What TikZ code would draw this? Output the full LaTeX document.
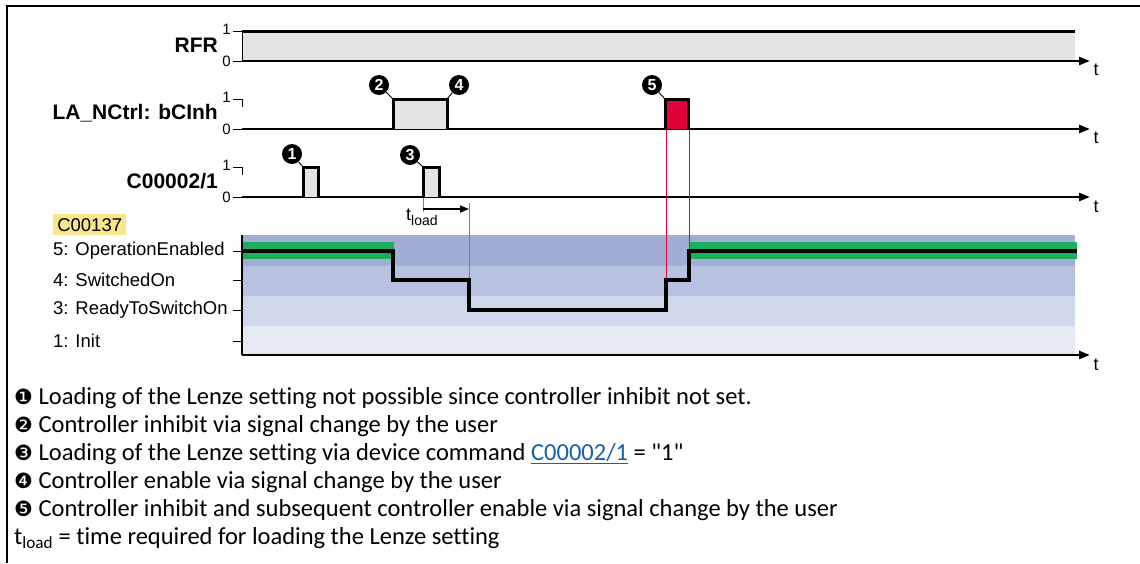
\documentclass[tikz,border=0pt]{standalone}
\usepackage{fontspec}
\setmainfont{Liberation Sans}
\newfontfamily\legfont[Ligatures={NoCommon,NoContextual}]{Carlito}
\newfontfamily\dingfont{DejaVu Sans}
\usetikzlibrary{arrows.meta}
\definecolor{sig}{HTML}{E4E4E4}
\definecolor{pulsered}{HTML}{E2003A}
\definecolor{opgreen}{HTML}{1EAD5F}
\definecolor{bandA}{HTML}{A0AED5}
\definecolor{bandB}{HTML}{B6C2DF}
\definecolor{bandC}{HTML}{CFD8EA}
\definecolor{bandD}{HTML}{E6EAF4}
\definecolor{hiyellow}{HTML}{F8E58C}
\definecolor{linkblue}{HTML}{1A5EA8}
\newcommand{\legding}[1]{{\dingfont\fontsize{21}{21}\selectfont #1}}
\begin{document}
\begin{tikzpicture}[x=1pt,y=-1pt,
  axis/.style={line width=2.4pt,-{Triangle[length=11pt,width=8pt]}},
  sigline/.style={line width=3pt},
  tickline/.style={line width=1pt},
  thinline/.style={line width=0.9pt},
  siglabel/.style={font=\fontsize{21}{24}\selectfont\bfseries,anchor=east,inner sep=0pt},
  lvl/.style={font=\fontsize{15}{17}\selectfont,anchor=east,inner sep=0pt},
  tlbl/.style={font=\fontsize{18}{20}\selectfont,inner sep=0pt},
  statelbl/.style={font=\fontsize{18.5}{21}\selectfont,anchor=west,inner sep=0pt},
  marker/.style={circle,fill=black,inner sep=0pt,minimum size=20pt,text=white,font=\fontsize{16}{16}\selectfont\bfseries},
  legline/.style={font=\legfont\fontsize{24.5}{28}\selectfont,anchor=west,inner sep=0pt}
]
\useasboundingbox (0,0) rectangle (1140,563);
% frame
\draw[line width=2pt] (7,563) -- (7,6) -- (1140,6);

% ---------- Row 1: RFR ----------
\fill[sig] (242,31) rectangle (1075,61);
\draw[thinline] (242,61) -- (242,31);
\draw[sigline] (242,31) -- (1075,31);
\draw[tickline] (233,31) -- (242,31);
\draw[tickline] (233,61) -- (242,61);
\node[lvl] (r1one) at (231,29) {1};
\node[lvl] (r1zero) at (231,61) {0};
\draw[axis] (242,61) -- (1090,61);
\node[tlbl] (t1) at (1096,70) {t};
\node[siglabel] (rfr) at (218,45) {RFR};

% ---------- Row 2: LA_NCtrl: bCInh ----------
\draw[tickline] (233,99) -- (242,99) -- (242,107);
\draw[tickline] (233,129) -- (242,129);
\node[lvl] (r2one) at (231,97) {1};
\node[lvl] (r2zero) at (231,129) {0};
\draw[axis] (242,129) -- (1090,129);
\filldraw[fill=sig,sigline] (393,129) -- (393,99) -- (447,99) -- (447,129);
\filldraw[fill=pulsered,sigline] (665,129) -- (665,99) -- (688,99) -- (688,129);
\node[tlbl] (t2) at (1096,138) {t};
\node[siglabel] (bcinh) at (218,113) {LA\_NCtrl: bCInh};

% ---------- Row 3: C00002/1 ----------
\draw[tickline] (233,167) -- (242,167) -- (242,175);
\draw[tickline] (233,197) -- (242,197);
\node[lvl] (r3one) at (231,165) {1};
\node[lvl] (r3zero) at (231,197) {0};
\draw[axis] (242,197) -- (1090,197);
\filldraw[fill=sig,sigline] (303,197) -- (303,167) -- (318,167) -- (318,197);
\filldraw[fill=sig,sigline] (423,197) -- (423,167) -- (439,167) -- (439,197);
\node[tlbl] (t3) at (1096,207) {t};
\node[siglabel] (cmd) at (218,181) {C00002/1};

% ---------- markers ----------
\coordinate (c1) at (303,167);
\coordinate (c2) at (393,99);
\coordinate (c3) at (423,167);
\coordinate (c4) at (447,99);
\coordinate (c5) at (665,99);
\node[marker] (m1) at (292,154) {1};
\node[marker] (m2) at (379,85) {2};
\node[marker] (m3) at (410,155) {3};
\node[marker] (m4) at (459,85) {4};
\node[marker] (m5) at (652,85) {5};
\draw[thinline] (m1) -- (c1);
\draw[thinline] (m2) -- (c2);
\draw[thinline] (m3) -- (c3);
\draw[thinline] (m4) -- (c4);
\draw[thinline] (m5) -- (c5);

% ---------- state plot ----------
\fill[bandA] (242,235) rectangle (1075,266);
\fill[bandB] (242,266) rectangle (1075,296);
\fill[bandC] (242,296) rectangle (1075,326);
\fill[bandD] (242,326) rectangle (1075,355);
\fill[opgreen] (242,242) rectangle (394,259);
\fill[opgreen] (689,242) rectangle (1077,259);

% t_load
\coordinate (tl0) at (423,198);
\coordinate (tl1) at (423,212);
\coordinate (tla) at (423,209);
\coordinate (tlb) at (469,209);
\coordinate (tlc) at (469,203);
\coordinate (tld) at (469,280);
\draw[gray,line width=0.8pt] (tl0) -- (tl1);
\draw[gray,line width=0.8pt] (tlc) -- (tld);
\draw[line width=1.6pt,-{Triangle[length=9pt,width=7pt]}] (tla) -- (tlb);
\node[tlbl,anchor=north west] (tload) at (406,209) {t\textsubscript{\fontsize{14}{14}\selectfont load}};

% red guide lines
\draw[pulsered,line width=0.9pt] (666,129) -- (666,280);
\draw[pulsered,line width=0.9pt] (689,129) -- (689,251);

% state line
\draw[line width=3.2pt] (242,251) -- (393,251) -- (393,280) -- (469,280) -- (469,310) -- (666,310) -- (666,280) -- (689,280) -- (689,251) -- (1077,251);

% axes
\draw[line width=1.6pt] (242,235) -- (242,355);
\draw[axis] (242,355) -- (1090,355);
\foreach \yy in {251,280,310,341} \draw[tickline] (233,\yy) -- (242,\yy);
\node[tlbl] (t4) at (1096,365) {t};

\node[statelbl,fill=hiyellow,minimum width=73pt,minimum height=21pt,inner sep=2pt,anchor=north west,align=center] (c137) at (53,214) {C00137};
\node[statelbl] (s5) at (53,251) {5: OperationEnabled};
\node[statelbl] (s4) at (53,280) {4: SwitchedOn};
\node[statelbl] (s3) at (53,310) {3: ReadyToSwitchOn};
\node[statelbl] (s1) at (53,341) {1: Init};

% ---------- legend ----------
\node[legline] (l1) at (14,398) {\legding{❶} Loading of the Lenze setting not possible since controller inhibit not set.};
\node[legline] (l2) at (14,426) {\legding{❷} Controller inhibit via signal change by the user};
\node[legline] (l3) at (14,454) {\legding{❸} Loading of the Lenze setting via device command \textcolor{linkblue}{\underline{C00002/1}} = "1"};
\node[legline] (l4) at (14,482) {\legding{❹} Controller enable via signal change by the user};
\node[legline] (l5) at (14,510) {\legding{❺} Controller inhibit and subsequent controller enable via signal change by the user};
\node[legline] (l6) at (14,538) {t\textsubscript{load} = time required for loading the Lenze setting};
\end{tikzpicture}
\end{document}
